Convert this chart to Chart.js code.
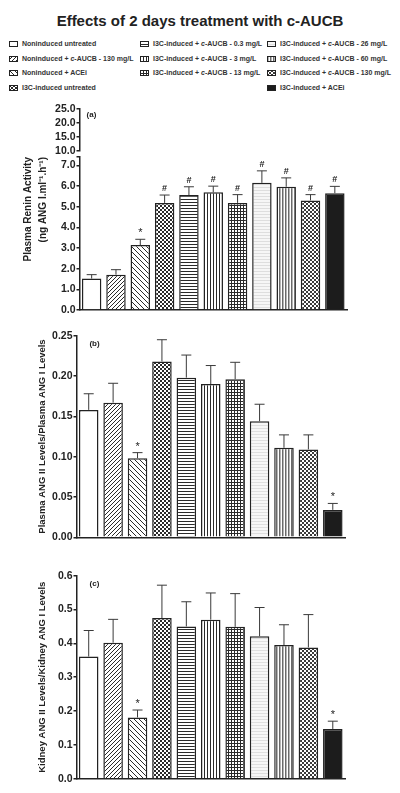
<!DOCTYPE html>
<html>
<head>
<meta charset="utf-8">
<script src="https://cdn.jsdelivr.net/npm/chart.js@4.4.1/dist/chart.umd.min.js"></script>
<style>
  body { margin: 0; width: 400px; height: 793px; position: relative; overflow: hidden; background: #fff;
         font-family: "Liberation Sans", Arial, sans-serif; color: #222; }
  h1 { position: absolute; top: 13px; left: 0; width: 400px; margin: 0; text-align: center;
       font-size: 15px; line-height: 15px; font-weight: bold; color: #222; }
  .item { position: absolute; height: 10px; line-height: 10px; font-size: 7px; font-weight: bold;
          color: #333; white-space: nowrap; }
  .item canvas { position: absolute; left: 0; top: 2px; }
  .item span { position: absolute; left: 13px; top: 0; }
  canvas.panel { position: absolute; left: 0; }
</style>
</head>
<body>
<h1>Effects of 2 days treatment with c-AUCB</h1>
<div id="legend"></div>
<canvas class="panel" id="aTop" width="400" height="63" style="top:95px"></canvas>
<canvas class="panel" id="aBottom" width="400" height="180" style="top:145px"></canvas>
<canvas class="panel" id="b" width="400" height="230" style="top:320px"></canvas>
<canvas class="panel" id="c" width="400" height="233" style="top:560px"></canvas>
<script>
const groups = [
  'Noninduced untreated',
  'Noninduced + c-AUCB - 130 mg/L',
  'Noninduced + ACEi',
  'I3C-induced untreated',
  'I3C-induced + c-AUCB - 0.3 mg/L',
  'I3C-induced + c-AUCB - 3 mg/L',
  'I3C-induced + c-AUCB - 13 mg/L',
  'I3C-induced + c-AUCB - 26 mg/L',
  'I3C-induced + c-AUCB - 60 mg/L',
  'I3C-induced + c-AUCB - 130 mg/L',
  'I3C-induced + ACEi',
]

// (a) plasma renin activity, ng ANG I.ml-1.h-1
const reninMean = [1.52, 1.71, 3.14, 5.18, 5.56, 5.69, 5.18, 6.15, 5.96, 5.30, 5.65]
const reninSem = [0.19, 0.24, 0.28, 0.38, 0.40, 0.30, 0.40, 0.58, 0.43, 0.28, 0.33]
const reninMarks = ['', '', '*', '#', '#', '#', '#', '#', '#', '#', '#']
const reninTicksLow = [0, 1, 2, 3, 4, 5, 6, 7]
const reninTicksHigh = [10, 15, 20, 25]

// (b) plasma ANG II / ANG I
const plasmaMean = [0.158, 0.167, 0.098, 0.218, 0.198, 0.190, 0.196, 0.144, 0.111, 0.109, 0.034]
const plasmaSem = [0.020, 0.024, 0.007, 0.027, 0.028, 0.023, 0.021, 0.021, 0.016, 0.018, 0.008]
const plasmaMarks = ['', '', '*', '', '', '', '', '', '', '', '*']
const plasmaTicks = [0, 0.05, 0.10, 0.15, 0.20, 0.25]

// (c) kidney ANG II / ANG I
const kidneyMean = [0.361, 0.402, 0.181, 0.475, 0.450, 0.470, 0.449, 0.421, 0.395, 0.388, 0.147]
const kidneySem = [0.077, 0.069, 0.022, 0.097, 0.073, 0.079, 0.098, 0.085, 0.060, 0.097, 0.023]
const kidneyMarks = ['', '', '*', '', '', '', '', '', '', '', '*']
const kidneyTicks = [0, 0.1, 0.2, 0.3, 0.4, 0.5, 0.6]

const fillKinds = ['white', 'fwd', 'back', 'check', 'hlines', 'vlines', 'grid', 'light', 'vgray', 'check2', 'solid']
const ink = '#222'

function tile(kind) {
  const s = { fwd: 4, back: 5, check: 4, hlines: 3, vlines: 3, grid: 3, light: 3, vgray: 3, check2: 4 }[kind]
  const c = document.createElement('canvas')
  c.width = c.height = s
  const g = c.getContext('2d')
  g.fillStyle = kind === 'light' ? '#f6f6f6' : '#fff'
  g.fillRect(0, 0, s, s)
  g.fillStyle = '#2a2a2a'
  g.strokeStyle = '#2a2a2a'
  g.lineWidth = 1
  if (kind === 'fwd') {
    for (let k = -s; k <= s; k += s) { g.beginPath(); g.moveTo(k, s); g.lineTo(k + s, 0); g.stroke() }
  } else if (kind === 'back') {
    for (let k = -s; k <= s; k += s) { g.beginPath(); g.moveTo(k, 0); g.lineTo(k + s, s); g.stroke() }
  } else if (kind === 'check' || kind === 'check2') {
    g.fillStyle = kind === 'check' ? '#2a2a2a' : '#3a3a3a'
    g.fillRect(0, 0, 2, 2); g.fillRect(2, 2, 2, 2)
  } else if (kind === 'hlines') {
    g.fillRect(0, 0, s, 1)
  } else if (kind === 'vlines') {
    g.fillRect(0, 0, 1, s)
  } else if (kind === 'grid') {
    g.fillRect(0, 0, s, 1); g.fillRect(0, 0, 1, s)
  } else if (kind === 'light') {
    g.fillStyle = '#dedede'; g.fillRect(0, 0, s, 1)
  } else if (kind === 'vgray') {
    g.fillStyle = '#6a6a6a'; g.fillRect(0, 0, 1, s)
    g.fillStyle = '#b4b4b4'; g.fillRect(1, 0, 1, s)
  }
  return c
}

function fillFor(ctx, kind) {
  if (kind === 'white') return '#fff'
  if (kind === 'solid') return '#1c1c1c'
  return ctx.createPattern(tile(kind), 'repeat')
}

// legend, three columns filled top to bottom
const legendCols = [[0, 1, 2, 3], [4, 5, 6], [7, 8, 9, 10]]
const colX = [9, 140, 267]
const rowY = [39, 53.5, 68, 82.5]
const legend = document.getElementById('legend')
legendCols.forEach((col, ci) => {
  col.forEach((gi, ri) => {
    const div = document.createElement('div')
    div.className = 'item'
    div.style.left = colX[ci] + 'px'
    div.style.top = rowY[ri] + 'px'
    const sw = document.createElement('canvas')
    sw.width = 9; sw.height = 6
    const g = sw.getContext('2d')
    g.fillStyle = fillFor(g, fillKinds[gi])
    g.fillRect(0, 0, 9, 6)
    g.strokeStyle = ink; g.lineWidth = 1
    g.strokeRect(0.5, 0.5, 8, 5)
    const span = document.createElement('span')
    span.innerHTML = groups[gi].replace('c-AUCB', '<i>c</i>-AUCB')
    div.appendChild(sw); div.appendChild(span)
    legend.appendChild(div)
  })
})

const errorBars = {
  id: 'errorBars',
  afterDatasetsDraw(chart) {
    const ds = chart.data.datasets[0]
    if (!ds) return
    const { ctx } = chart
    const y = chart.scales.y
    const meta = chart.getDatasetMeta(0)
    ctx.save()
    meta.data.forEach((bar, i) => {
      const top = y.getPixelForValue(ds.data[i] + ds.sem[i])
      ctx.strokeStyle = '#3a3a3a'
      ctx.lineWidth = 1
      ctx.beginPath()
      ctx.moveTo(bar.x, bar.y)
      ctx.lineTo(bar.x, top)
      ctx.moveTo(bar.x - 5, top)
      ctx.lineTo(bar.x + 5, top)
      ctx.stroke()
      const m = ds.marks[i]
      if (m) {
        ctx.fillStyle = ink
        ctx.textAlign = 'center'
        ctx.textBaseline = 'alphabetic'
        ctx.font = m === '#' ? 'bold 9px "Liberation Sans"' : '11px "Liberation Sans"'
        ctx.fillText(m, bar.x, m === '#' ? top - 4 : top - 3)
      }
    })
    ctx.restore()
  },
}

const panelTag = {
  id: 'panelTag',
  afterDraw(chart, args, opts) {
    if (!opts.text) return
    const { ctx, chartArea } = chart
    ctx.save()
    ctx.font = 'bold 8px "Liberation Sans"'
    ctx.fillStyle = ink
    ctx.textAlign = 'center'
    ctx.textBaseline = 'middle'
    ctx.fillText(opts.text, chartArea.left + opts.dx, chartArea.top + opts.dy)
    ctx.restore()
  },
}

function panel(id, cfg) {
  const canvas = document.getElementById(id)
  const ctx = canvas.getContext('2d')
  const datasets = cfg.mean ? [{
    data: cfg.mean,
    sem: cfg.sem,
    marks: cfg.marks,
    backgroundColor: fillKinds.map((k) => fillFor(ctx, k)),
    borderColor: ink,
    borderWidth: 1.5,
    barPercentage: 0.8,
    categoryPercentage: 1,
  }] : []
  return new Chart(canvas, {
    type: 'bar',
    data: { labels: groups, datasets },
    options: {
      responsive: false,
      animation: false,
      events: [],
      layout: { padding: cfg.padding },
      plugins: {
        legend: { display: false },
        tooltip: { enabled: false },
        panelTag: cfg.tag || {},
      },
      scales: {
        x: {
          display: !!cfg.mean,
          grid: { display: true, drawOnChartArea: false, drawTicks: false },
          ticks: { display: false },
          border: { color: ink, width: 1.5 },
        },
        y: {
          min: cfg.min,
          max: cfg.max,
          afterBuildTicks: (s) => { s.ticks = cfg.ticks.map((v) => ({ value: v })) },
          afterFit: (s) => { s.width = cfg.axisX - cfg.padding.left },
          ticks: {
            autoSkip: false,
            callback: (v) => (cfg.blank && cfg.blank.includes(v) ? '' : v.toFixed(cfg.digits)),
            font: { family: '"Liberation Sans"', size: 10.5, weight: 'bold' },
            color: ink,
            padding: 1,
          },
          grid: { drawOnChartArea: false, tickLength: 3, color: ink, lineWidth: 1.5 },
          border: { color: ink, width: 1.5 },
          title: cfg.title ? {
            display: true,
            text: cfg.title,
            align: cfg.titleAlign || 'center',
            padding: 0,
            color: ink,
            font: { family: '"Liberation Sans"', size: cfg.titleSize, weight: 'bold', lineHeight: cfg.titleLH || 1.2 },
          } : { display: false },
        },
      },
    },
    plugins: [errorBars, panelTag],
  })
}

// (a) broken axis: upper segment 10-25, lower segment 0-7
panel('aTop', {
  min: 10, max: 25, ticks: reninTicksHigh, digits: 1, axisX: 79.5,
  padding: { top: 14, bottom: 7, left: 21, right: 53 },
  tag: { text: '(a)', dx: 12, dy: 6 },
})
panel('aBottom', {
  mean: reninMean, sem: reninSem, marks: reninMarks,
  min: 0, max: 7.4, ticks: reninTicksLow.concat([7.4]), blank: [7.4], digits: 1, axisX: 79.5,
  padding: { top: 12, bottom: 15, left: 21, right: 53 },
  title: ['Plasma Renin Activity', '(ng ANG I.ml\u207B\u00B9.h\u207B\u00B9)'],
  titleAlign: 'end', titleSize: 10, titleLH: 1.45,
})
panel('b', {
  mean: plasmaMean, sem: plasmaSem, marks: plasmaMarks,
  min: 0, max: 0.25, ticks: plasmaTicks, digits: 2, axisX: 76.5,
  padding: { top: 15.7, bottom: 12.7, left: 37, right: 55 },
  title: 'Plasma ANG II Levels/Plasma ANG I Levels', titleSize: 9.5,
  tag: { text: '(b)', dx: 18, dy: 8 },
})
panel('c', {
  mean: kidneyMean, sem: kidneySem, marks: kidneyMarks,
  min: 0, max: 0.6, ticks: kidneyTicks, digits: 1, axisX: 76.5,
  padding: { top: 15.7, bottom: 14.3, left: 37, right: 55 },
  title: 'Kidney ANG II Levels/Kidney ANG I Levels', titleSize: 9.5,
  tag: { text: '(c)', dx: 18, dy: 8 },
})
</script>
</body>
</html>
